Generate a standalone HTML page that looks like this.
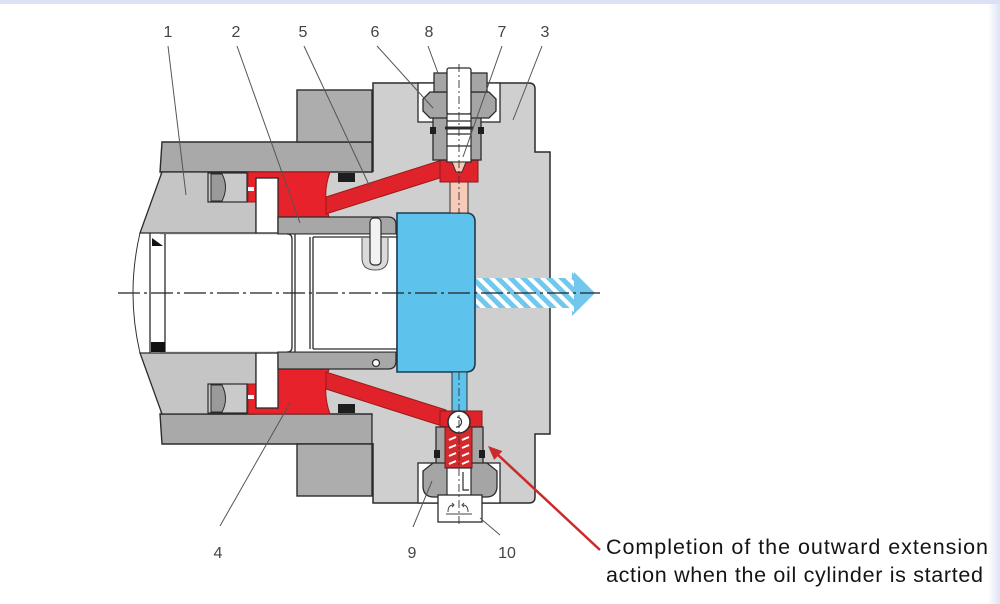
<!DOCTYPE html>
<html><head><meta charset="utf-8"><style>
html,body{margin:0;padding:0;background:#fff;}
svg{display:block}
</style></head><body>
<svg width="1000" height="604" viewBox="0 0 1000 604" xmlns="http://www.w3.org/2000/svg">
<defs>
<pattern id="hatch" patternUnits="userSpaceOnUse" width="9" height="9" patternTransform="rotate(-45)">
<rect width="9" height="9" fill="#ffffff"/>
<rect width="5" height="9" fill="#72c8ec"/>
</pattern>
<linearGradient id="rg" x1="0" x2="1" y1="0" y2="0"><stop offset="0" stop-color="#ffffff"/><stop offset="1" stop-color="#dfe3f5"/></linearGradient>
<g id="up">
 <path d="M162,142 H372 V172 H160 Z" fill="#a9a9a9" stroke="#2b2b2b" stroke-width="1.4"/>
 <rect x="297" y="90" width="75" height="52" fill="#adadad" stroke="#2b2b2b" stroke-width="1.4"/>
 <path d="M162,172 H256 V233 H140 Z" fill="#c5c5c5" stroke="#2b2b2b" stroke-width="1.3"/>
 <rect x="208" y="173" width="39" height="29" fill="#cacaca" stroke="#2b2b2b" stroke-width="1.2"/>
 <path d="M211,174 H222 Q229,187 222,201 H211 Z" fill="#9a9a9a" stroke="#2b2b2b" stroke-width="1"/>
 <path d="M248,172 H330 Q322,194 329,217 H278 V202 H248 Z" fill="#e8222a" stroke="#9a1a1a" stroke-width="1"/>
 <rect x="248" y="187" width="6" height="4" fill="#ffffff"/>
 <rect x="256" y="178" width="22" height="55" fill="#ffffff" stroke="#2b2b2b" stroke-width="1.3"/>
 <polygon points="326,197 442,160 446,176 326,214" fill="#e0232b" stroke="#9a1a1a" stroke-width="1"/>
 <rect x="338" y="173" width="17" height="9" fill="#1e1e1e"/>
 <path d="M278,217 H388 Q396,217 396,225 V234 H278 Z" fill="#a7a7a7" stroke="#2b2b2b" stroke-width="1.3"/>
</g>
</defs>
<rect width="1000" height="604" fill="#ffffff"/>
<rect x="0" y="0" width="1000" height="4" fill="#dce2f6"/>
<rect x="988" y="4" width="12" height="600" fill="url(#rg)"/>

<rect x="160" y="170" width="240" height="246" fill="#cfcfcf"/>
<path d="M373,83 H529 Q535,83 535,89 V152 H550 V434 H535 V497 Q535,503 529,503 H373 Z" fill="#cfcfcf"/>
<path d="M373,172 V83 H529 Q535,83 535,89 V152 H550 V434 H535 V497 Q535,503 529,503 H373 V443" fill="none" stroke="#2b2b2b" stroke-width="1.5"/>

<path d="M397,213 H466 Q475,213 475,222 V363 Q475,372 466,372 H397 Z" fill="#5ec3ec" stroke="#1d3b50" stroke-width="1.6"/>

<use href="#up"/>
<use href="#up" transform="translate(0,586) scale(1,-1)"/>

<rect x="150" y="234.5" width="246" height="117" fill="#ffffff"/>
<g fill="none" stroke="#2b2b2b" stroke-width="1.3">
 <line x1="150" y1="233" x2="150" y2="353"/>
 <line x1="165" y1="234" x2="165" y2="352"/>
 <path d="M287,234 Q292,234 292,239 V347 Q292,352 287,352"/>
 <path d="M295,234 V352 M310,237 V349 M313,237 V349 M313,237 H397 M313,349 H397"/>
</g>
<polygon points="152,238 152,246 163,246" fill="#111"/>
<rect x="151" y="342" width="14" height="10" fill="#111"/>
<path d="M140,233 Q126,293 140,353" fill="none" stroke="#333" stroke-width="1"/>

<path d="M362,238 V258 Q362,270 375,270 Q388,270 388,258 V238" fill="#dadada" stroke="#555" stroke-width="1"/>
<rect x="370" y="218" width="11" height="47" rx="4" fill="#f2f2f2" stroke="#2b2b2b" stroke-width="1.2"/>
<circle cx="376" cy="363" r="3.5" fill="#fff" stroke="#2b2b2b" stroke-width="1.2"/>

<rect x="450" y="181" width="18" height="32" fill="#f6cbb9" stroke="#333" stroke-width="1"/>
<rect x="452" y="372" width="15" height="40" fill="#5ec3ec" stroke="#333" stroke-width="1"/>

<rect x="418" y="83" width="82" height="39" fill="#ffffff" stroke="#2b2b2b" stroke-width="1.3"/>
<rect x="440" y="160" width="38" height="22" fill="#e0232b" stroke="#8a1a1a" stroke-width="1"/>
<rect x="433" y="116" width="48" height="44" fill="#a5a5a5" stroke="#2b2b2b" stroke-width="1.3"/>
<path d="M430,92 H489 L496,99 V111 L489,118 H430 L423,111 V99 Z" fill="#a5a5a5" stroke="#2b2b2b" stroke-width="1.3"/>
<rect x="434" y="73" width="53" height="19" fill="#a5a5a5" stroke="#2b2b2b" stroke-width="1.3"/>
<rect x="447" y="68" width="24" height="46" rx="2" fill="#ffffff" stroke="#2b2b2b" stroke-width="1.3"/>
<rect x="447" y="114" width="24" height="48" fill="#ffffff" stroke="#2b2b2b" stroke-width="1.2"/>
<g stroke="#2b2b2b" stroke-width="1.2">
 <line x1="447" y1="121" x2="471" y2="121"/>
 <line x1="445" y1="128" x2="473" y2="128" stroke-width="3"/>
 <line x1="447" y1="134" x2="471" y2="134"/>
 <line x1="447" y1="146" x2="471" y2="146"/>
</g>
<polygon points="452,162 466,162 462,172 456,172" fill="#f6cbb9" stroke="#333" stroke-width="1"/>
<rect x="430" y="127" width="6" height="7" fill="#1e1e1e"/>
<rect x="478" y="127" width="6" height="7" fill="#1e1e1e"/>

<rect x="418" y="463" width="82" height="40" fill="#ffffff" stroke="#2b2b2b" stroke-width="1.3"/>
<rect x="440" y="411" width="42" height="17" fill="#e0232b" stroke="#8a1a1a" stroke-width="1"/>
<rect x="436" y="427" width="47" height="38" fill="#a5a5a5" stroke="#2b2b2b" stroke-width="1.3"/>
<path d="M433,463 H487 L497,471 V486 Q497,497 486,497 H434 Q423,497 423,486 V471 Z" fill="#a5a5a5" stroke="#2b2b2b" stroke-width="1.3"/>
<rect x="445" y="427" width="27" height="41" fill="#d42a2e" stroke="#7a1515" stroke-width="1"/>
<g stroke="#ffffff" stroke-width="2">
 <line x1="449" y1="440" x2="456" y2="437"/><line x1="462" y1="440" x2="469" y2="437"/>
 <line x1="449" y1="448" x2="456" y2="445"/><line x1="462" y1="448" x2="469" y2="445"/>
 <line x1="449" y1="456" x2="456" y2="453"/><line x1="462" y1="456" x2="469" y2="453"/>
 <line x1="449" y1="464" x2="456" y2="461"/><line x1="462" y1="464" x2="469" y2="461"/>
</g>
<rect x="447" y="468" width="24" height="29" fill="#ffffff" stroke="#2b2b2b" stroke-width="1.2"/>
<path d="M463,472 V490 H469" fill="none" stroke="#2b2b2b" stroke-width="1.2"/>
<rect x="434" y="450" width="6" height="8" fill="#1e1e1e"/>
<rect x="479" y="450" width="6" height="8" fill="#1e1e1e"/>
<circle cx="459" cy="422" r="11" fill="#ffffff" stroke="#2b2b2b" stroke-width="1.5"/>
<path d="M457,417 A5 5 0 1 1 456,427" fill="none" stroke="#333" stroke-width="1.2"/>
<rect x="438" y="495" width="44" height="27" fill="#ffffff" stroke="#2b2b2b" stroke-width="1.3"/>
<g fill="none" stroke="#444" stroke-width="1">
 <path d="M448,512 Q448,505 453,505 M452,503 L454,505 L452,507"/>
 <path d="M468,512 Q468,505 463,505 M464,503 L462,505 L464,507"/>
 <path d="M446,514 H472"/>
</g>

<g stroke="#333" stroke-width="0.9" stroke-dasharray="8,3,2,3" fill="none">
 <line x1="459" y1="64" x2="459" y2="214"/>
 <line x1="459" y1="372" x2="459" y2="524"/>
</g>

<path d="M476,278 H572 V270 L595,293 L572,316 V308 H476 Z" fill="url(#hatch)"/>
<polygon points="574,272 595,293 574,314" fill="#72c8ec"/>

<line x1="118" y1="293" x2="600" y2="293" stroke="#222" stroke-width="1.2" stroke-dasharray="22,4,3,4"/>

<g stroke="#555" stroke-width="1" fill="none">
 <line x1="168" y1="46" x2="186" y2="195"/>
 <line x1="237" y1="46" x2="300" y2="223"/>
 <line x1="304" y1="46" x2="370" y2="187"/>
 <line x1="377" y1="46" x2="433" y2="108"/>
 <line x1="428" y1="46" x2="438" y2="73"/>
 <line x1="502" y1="46" x2="463" y2="157"/>
 <line x1="542" y1="46" x2="513" y2="120"/>
 <line x1="220" y1="526" x2="290" y2="403"/>
 <line x1="413" y1="527" x2="432" y2="481"/>
 <line x1="500" y1="535" x2="480" y2="518"/>
</g>

<g font-family="Liberation Sans, Arial, sans-serif" font-size="16" fill="#444" text-anchor="middle">
 <text x="168" y="37">1</text>
 <text x="236" y="37">2</text>
 <text x="303" y="37">5</text>
 <text x="375" y="37">6</text>
 <text x="429" y="37">8</text>
 <text x="502" y="37">7</text>
 <text x="545" y="37">3</text>
 <text x="218" y="558">4</text>
 <text x="412" y="558">9</text>
 <text x="507" y="558">10</text>
</g>

<line x1="600" y1="550" x2="497" y2="454" stroke="#cc2a2a" stroke-width="2.5"/>
<polygon points="488,446 502.4,451.1 494.2,459.9" fill="#cc2a2a"/>

<g font-family="Liberation Sans, Arial, sans-serif" font-size="21.5" fill="#141414">
 <text x="606" y="554" textLength="382" lengthAdjust="spacing">Completion of the outward extension</text>
 <text x="606" y="582" textLength="377" lengthAdjust="spacing">action when the oil cylinder is started</text>
</g>
</svg>
</body></html>
